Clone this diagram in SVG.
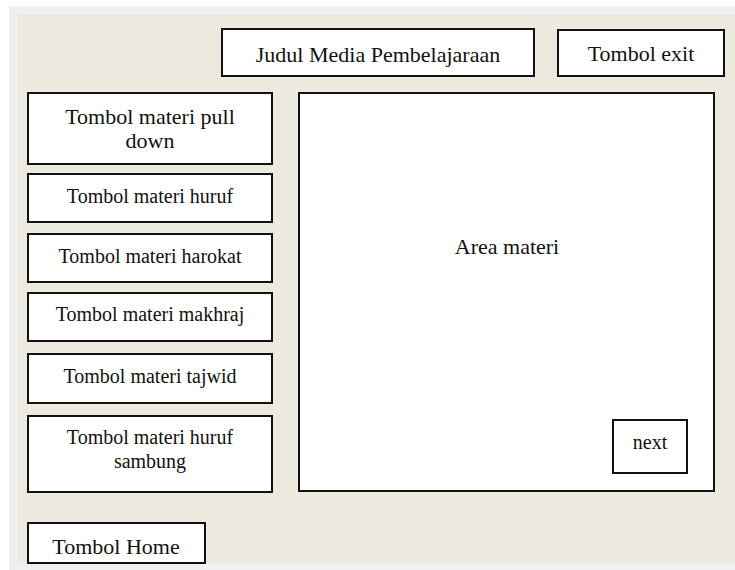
<svg xmlns="http://www.w3.org/2000/svg" width="735" height="570" viewBox="0 0 735 570">
  <style>
    .box { fill: #ffffff; stroke: #111111; stroke-width: 2; }
    .lbl { font-family: "Liberation Serif", "Times New Roman", serif; fill: #111111; text-anchor: middle; }
    .lg { font-size: 22px; }
    .sm { font-size: 20px; }
  </style>
  <!-- page backdrop -->
  <rect x="0" y="0" width="735" height="570" fill="#ffffff"/>
  <rect x="9" y="6" width="726" height="564" fill="#f0f0f0"/>
  <rect x="17" y="14" width="718" height="549" fill="#ece9df"/>

  <g id="judul">
    <rect class="box" x="222" y="29" width="312" height="47"/>
    <text class="lbl lg" x="378" y="62">Judul Media Pembelajaraan</text>
  </g>
  <g id="tombol-exit">
    <rect class="box" x="558" y="30" width="166" height="46"/>
    <text class="lbl lg" x="641" y="61">Tombol exit</text>
  </g>
  <g id="tombol-pull-down">
    <rect class="box" x="28" y="93" width="244" height="71"/>
    <text class="lbl lg" x="150" y="124">Tombol materi pull</text>
    <text class="lbl lg" x="150" y="148">down</text>
  </g>
  <g id="tombol-huruf">
    <rect class="box" x="28" y="174" width="244" height="48"/>
    <text class="lbl sm" x="150" y="203">Tombol materi huruf</text>
  </g>
  <g id="tombol-harokat">
    <rect class="box" x="28" y="234" width="244" height="48"/>
    <text class="lbl sm" x="150" y="263">Tombol materi harokat</text>
  </g>
  <g id="tombol-makhraj">
    <rect class="box" x="28" y="293" width="244" height="48"/>
    <text class="lbl sm" x="150" y="321">Tombol materi makhraj</text>
  </g>
  <g id="tombol-tajwid">
    <rect class="box" x="28" y="354" width="244" height="49"/>
    <text class="lbl sm" x="150" y="383">Tombol materi tajwid</text>
  </g>
  <g id="tombol-huruf-sambung">
    <rect class="box" x="28" y="416" width="244" height="76"/>
    <text class="lbl sm" x="150" y="444">Tombol materi huruf</text>
    <text class="lbl sm" x="150" y="468">sambung</text>
  </g>
  <g id="area-materi">
    <rect class="box" x="299" y="93" width="415" height="398"/>
    <text class="lbl lg" x="507" y="254">Area materi</text>
  </g>
  <g id="tombol-next">
    <rect class="box" x="613" y="420" width="74" height="53"/>
    <text class="lbl sm" x="650" y="449">next</text>
  </g>
  <g id="tombol-home">
    <rect class="box" x="28" y="523" width="177" height="40"/>
    <text class="lbl lg" x="116" y="554">Tombol Home</text>
  </g>
  <g id="connectors"/>
</svg>
